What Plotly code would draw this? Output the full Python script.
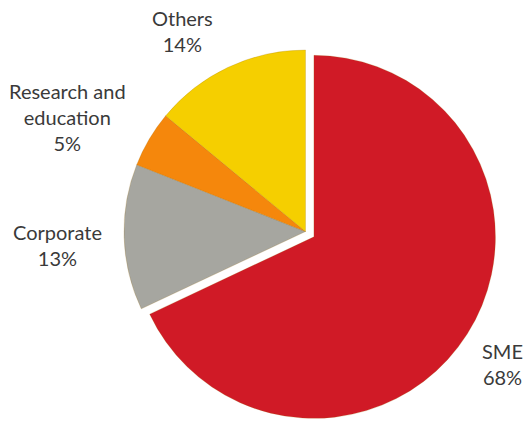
import plotly.graph_objects as go

categories = ["SME", "Corporate", "Research and<br>education", "Others"]
values = [68, 13, 5, 14]
colors = ["#d01a26", "#a6a6a0", "#f5870c", "#f5cf00"]
pulls = [0.055, 0, 0, 0]

# label anchor positions (page px coordinates of text centers)
label_pos = [(502, 364), (57, 245), (67, 117), (182, 31)]

W, H = 529, 423
ML, MR, MT, MB = 114, 32, 40, 0

fig = go.Figure(go.Pie(
    labels=categories,
    values=values,
    sort=False,
    direction="clockwise",
    rotation=0,
    pull=pulls,
    marker=dict(colors=colors, line=dict(color="rgba(150,100,0,0.35)", width=0.6)),
    textinfo="none",
    hoverinfo="label+percent",
    showlegend=False,
))

ann = []
for cat, v, (px, py) in zip(categories, values, label_pos):
    ann.append(dict(
        text=f"{cat}<br>{v}%",
        x=(px - ML) / (W - ML - MR), y=1 - (py - MT) / (H - MT - MB),
        xref="paper", yref="paper",
        xanchor="center", yanchor="middle",
        showarrow=False,
        font=dict(family="Lato", size=20, color="#3a3a3a"),
        align="center",
    ))

fig.update_layout(
    width=W, height=H,
    margin=dict(l=ML, r=MR, t=MT, b=MB),
    paper_bgcolor="white",
    plot_bgcolor="white",
    annotations=ann,
)

fig.write_html("out.html", config={"displayModeBar": False},
               post_script="document.body.style.margin='0';")
